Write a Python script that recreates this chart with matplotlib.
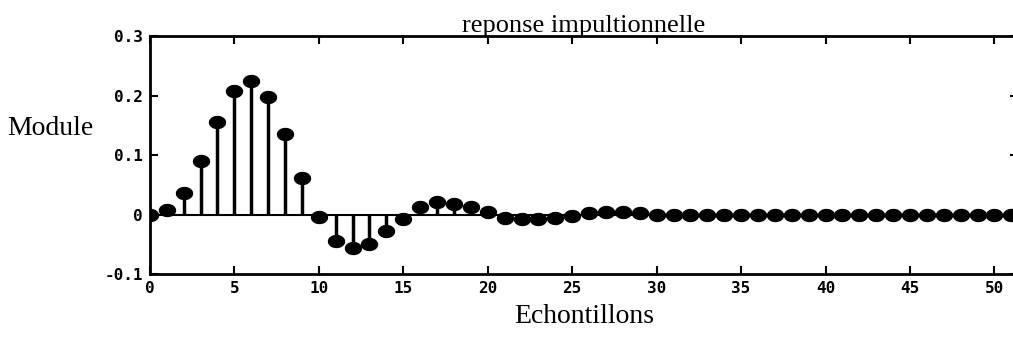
import numpy as np
import matplotlib
matplotlib.use("Agg")
import matplotlib.pyplot as plt
from matplotlib.path import Path

# impulse response samples
n = list(range(53))
h = [0.0, 0.008, 0.037, 0.090, 0.156, 0.207, 0.225, 0.197, 0.136, 0.062,
     -0.004, -0.044, -0.057, -0.050, -0.028, -0.007, 0.012, 0.021, 0.018, 0.013,
     0.004, -0.005, -0.008, -0.008, -0.006, -0.002, 0.002, 0.004, 0.004, 0.002,
     0.0, -0.001, -0.001, -0.001, -0.001, -0.001, -0.001, -0.001, -0.001, -0.001,
     -0.001, -0.001, -0.001, -0.001, -0.001, -0.001, -0.001, -0.001, -0.001, -0.001,
     -0.001, -0.001, -0.001]

xticks = [0, 5, 10, 15, 20, 25, 30, 35, 40, 45, 50]
yticks = [-0.1, 0, 0.1, 0.2, 0.3]
yticklabels = ["-0.1", "0", "0.1", "0.2", "0.3"]

# slightly flattened filled marker like the old screenshot
t = np.linspace(0, 2 * np.pi, 40)
blob = Path(np.column_stack([np.cos(t), 0.75 * np.sin(t)]))

fig = plt.figure(figsize=(10.13, 3.4), dpi=100)
ax = fig.add_axes([0.148, 0.194, 0.857, 0.70])

ml, sl, bl = ax.stem(n, h, linefmt="k-", markerfmt="ko", basefmt="k-")
plt.setp(sl, linewidth=2.5)
plt.setp(bl, linewidth=1.5)
plt.setp(ml, marker=blob, markersize=11.5, color="black")

ax.set_xlim(0, 51.4)
ax.set_ylim(-0.1, 0.3)
ax.set_xticks(xticks)
ax.set_yticks(yticks)
ax.set_yticklabels(yticklabels)
ax.tick_params(direction="in", top=True, right=True, length=6, width=1.5,
               labelsize=11.5, pad=5)
for lab in ax.get_xticklabels() + ax.get_yticklabels():
    lab.set_fontfamily("DejaVu Sans Mono")
    lab.set_fontweight("bold")
for sp in ax.spines.values():
    sp.set_linewidth(2)

ax.set_title("reponse impultionnelle", fontfamily="Liberation Serif",
             fontsize=19, pad=3)
ax.set_xlabel("Echontillons", fontfamily="Liberation Serif", fontsize=20,
              labelpad=6)
fig.text(0.007, 0.623, "Module", fontfamily="Liberation Serif", fontsize=20,
         va="center", ha="left")

plt.savefig("out.png", dpi=100)
